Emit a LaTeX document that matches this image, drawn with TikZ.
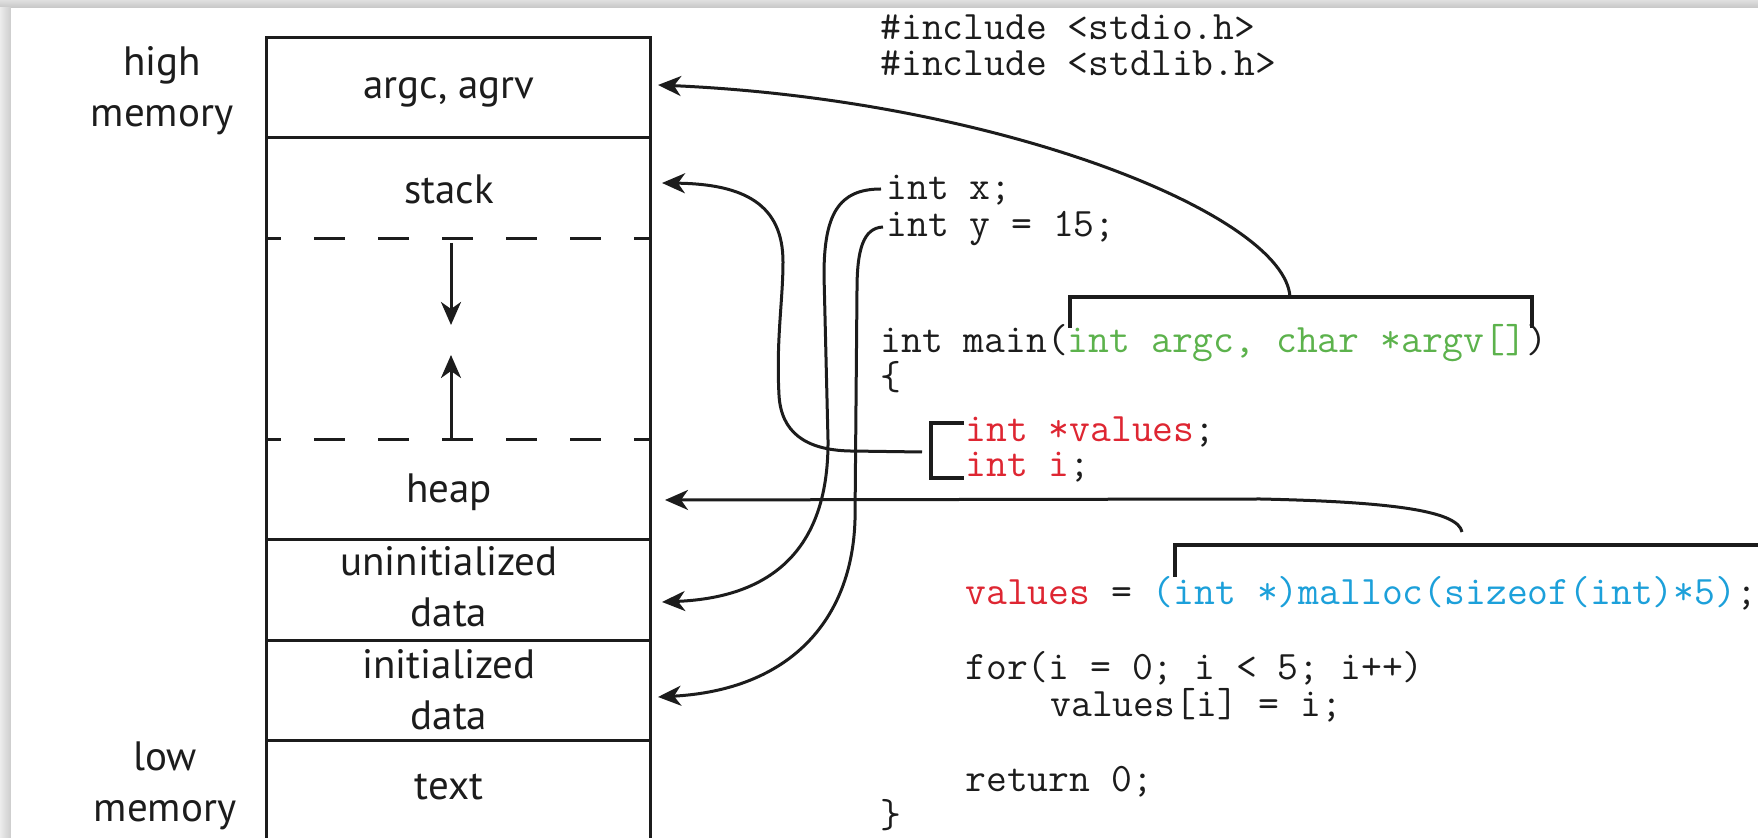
\documentclass[tikz,border=0pt]{standalone}
\usepackage{fontspec}
\setmainfont{PT Sans}
\usetikzlibrary{arrows.meta}
\definecolor{cgreen}{RGB}{92,178,76}
\definecolor{cred}{RGB}{222,38,50}
\definecolor{cblue}{RGB}{28,160,218}
\definecolor{ink}{RGB}{28,28,28}
\begin{document}
\begin{tikzpicture}[x=0.5pt,y=-0.5pt,
  lbl/.style={font=\fontsize{20.5}{25.5}\selectfont, inner sep=0pt, text=ink},
  code/.style={font=\ttfamily\fontsize{20.23}{22}\selectfont\frenchspacing, inner sep=0pt, anchor=base west, text=ink, text height=11pt, text depth=2.5pt},
  seg/.style={line width=1.5pt, draw=ink},
  dashline/.style={line width=1.5pt, draw=ink, dash pattern=on 15.5pt off 16.5pt, dash phase=8pt},
  link/.style={line width=1.5pt, draw=ink, -{Stealth[length=11.5pt,width=10pt,inset=3.5pt]}},
  brk/.style={line width=1.6pt, draw=ink},
]
\useasboundingbox (0,0) rectangle (1758,838);
% frame shadow
\fill[white] (0,0) rectangle (1770,850);
\shade[top color=gray!25, bottom color=gray!45] (0,0) rectangle (1770,8);
\shade[left color=gray!15, right color=gray!40] (0,8) rectangle (11,850);
\fill[white] (11,8) rectangle (1770,850);

% memory layout box
\draw[seg] (266,845) -- (266,38) -- (650,38) -- (650,845);
\draw[seg] (266,138) -- (650,138);
\draw[dashline] (266,239) -- (650,239);
\draw[dashline] (266,440) -- (650,440);
\draw[seg] (266,540) -- (650,540);
\draw[seg] (266,641) -- (650,641);
\draw[seg] (266,741) -- (650,741);

\coordinate (dtop) at (451,243);
\coordinate (dtip) at (451,325);
\coordinate (ubot) at (451,440);
\coordinate (utip) at (451,355);
\draw[link] (dtop) -- (dtip);
\draw[link] (ubot) -- (utip);

\node[lbl, anchor=base] (argc) at (449,99) {argc, agrv};
\node[lbl, anchor=base] (stack) at (449,204) {stack};
\node[lbl, anchor=base] (heap) at (449,503) {heap};
\node[lbl, align=center] (uninit) at (449,587) {uninitialized\\data};
\node[lbl, align=center] (init) at (449,690) {initialized\\data};
\node[lbl, anchor=base] (textseg) at (449,800) {text};
\node[lbl, align=center] (high) at (162,91) {high\\memory};
\node[lbl, align=center] (low) at (165,786) {low\\memory};

% code
\node[code] (inc1) at (880,40) {\#include <stdio.h>};
\node[code] (inc2) at (880,76) {\#include <stdlib.h>};
\node[code] (intx) at (886,200) {int x;};
\node[code] (inty) at (886,237) {int y = 15;};
\node[code] (mainl) at (880,353) {int main(\textcolor{cgreen}{int argc, char *argv[]})};
\node[code] (lbrace) at (880,390) {\{};
\node[code] (vals) at (965,442) {\textcolor{cred}{int *values};};
\node[code] (inti) at (965,477) {\textcolor{cred}{int i};};
\node[code] (mall) at (965,605) {\textcolor{cred}{values} = \textcolor{cblue}{(int *)malloc(sizeof(int)*5)};};
\node[code] (forl) at (965,680) {for(i = 0; i < 5; i++)};
\node[code] (assign) at (1050,717) {values[i] = i;};
\node[code] (ret) at (965,792) {return 0;};
\node[code] (rbrace) at (880,828) {\}};

% brackets
\draw[brk] (1070,328) -- (1070,297) -- (1532,297) -- (1532,328);
\draw[brk] (964,423) -- (931,423) -- (931,478) -- (964,478);
\draw[brk] (1175,577) -- (1175,545) -- (1770,545);

% connector ends
\coordinate (argcTop) at (1290,297);
\coordinate (argcTip) at (658,85);
\coordinate (valsStem) at (922,452);
\coordinate (stackTip) at (662,183);
\coordinate (xStart) at (881,189);
\coordinate (uninitTip) at (662,602);
\coordinate (yStart) at (883,227);
\coordinate (initTip) at (658,697);
\coordinate (heapStart) at (1462,532);
\coordinate (heapTip) at (665,500);

\draw[link] (argcTop) .. controls (1285,215) and (1000,100) .. (argcTip);
\draw[link] (valsStem) -- (850,451) .. controls (805,450) and (781,432) .. (779,395)
   .. controls (776,340) and (783,300) .. (783,262)
   .. controls (783,205) and (745,184) .. (stackTip);
\draw[link] (xStart) .. controls (838,189) and (824,215) .. (824,275) -- (828,440)
   .. controls (829,560) and (760,598) .. (uninitTip);
\draw[link] (yStart) .. controls (863,228) and (857,250) .. (857,290) -- (855,520)
   .. controls (852,620) and (790,690) .. (initTip);
\draw[link] (heapStart) .. controls (1458,512) and (1400,502) .. (1260,499) -- (heapTip);
\end{tikzpicture}
\end{document}
